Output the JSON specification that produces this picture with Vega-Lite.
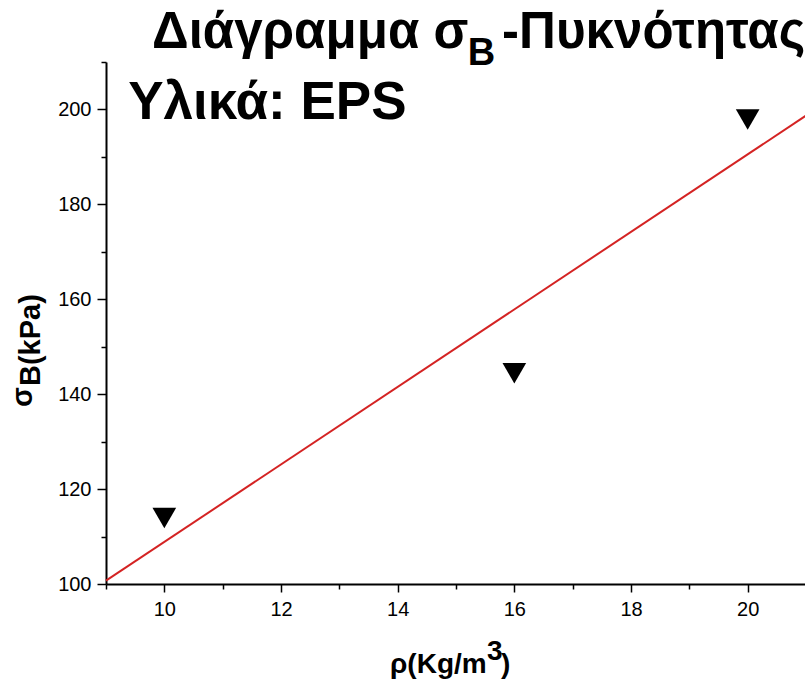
{
  "$schema": "https://vega.github.io/schema/vega-lite/v6.json",
  "autosize": {"type": "none"},
  "padding": {"top": 62, "left": 106, "right": 0, "bottom": 98},
  "width": 700,
  "height": 522,
  "background": "white",
  "config": {"view": {"stroke": null}, "font": "Liberation Sans"},
  "datasets": {
    "points": [
      {"rho": 10, "sigma": 113.9},
      {"rho": 16, "sigma": 144.4},
      {"rho": 20, "sigma": 197.9}
    ],
    "fit": [
      {"rho": 9, "sigma": 100.7},
      {"rho": 21, "sigma": 198.7}
    ]
  },
  "resolve": {"axis": {"x": "independent", "y": "independent"}},
  "layer": [
    {
      "data": {"name": "fit"},
      "mark": {"type": "line", "color": "#d42323", "strokeWidth": 2},
      "encoding": {
        "x": {"field": "rho", "type": "quantitative",
          "scale": {"domain": [9, 21], "nice": false, "zero": false},
          "axis": {"orient": "bottom", "values": [10, 12, 14, 16, 18, 20], "title": null, "grid": false,
            "domainColor": "black", "domainWidth": 2, "tickColor": "black", "tickWidth": 1.5, "tickSize": 8,
            "labelFontSize": 20, "labelColor": "black", "labelPadding": 7, "labelFont": "Liberation Sans"}},
        "y": {"field": "sigma", "type": "quantitative",
          "scale": {"domain": [100, 210], "nice": false, "zero": false},
          "axis": {"orient": "left", "values": [100, 120, 140, 160, 180, 200], "title": null, "grid": false,
            "domainColor": "black", "domainWidth": 2, "tickColor": "black", "tickWidth": 1.5, "tickSize": 9,
            "labelFontSize": 20, "labelColor": "black", "labelPadding": 6, "labelFont": "Liberation Sans"}}
      }
    },
    {
      "data": {"name": "points"},
      "mark": {"type": "point", "shape": "triangle-down", "filled": true, "color": "black", "size": 560, "opacity": 1},
      "encoding": {
        "x": {"field": "rho", "type": "quantitative",
          "axis": {"orient": "bottom", "values": [9, 11, 13, 15, 17, 19, 21], "title": null, "grid": false, "labels": false,
            "domain": false, "tickColor": "black", "tickWidth": 1.5, "tickSize": 5}},
        "y": {"field": "sigma", "type": "quantitative",
          "axis": {"orient": "left", "values": [110, 130, 150, 170, 190, 210], "title": null, "grid": false, "labels": false,
            "domain": false, "tickColor": "black", "tickWidth": 1.5, "tickSize": 5}}
      }
    },
    {
      "data": {"values": [{"label": "Διάγραμμα σ"}]},
      "mark": {"type": "text", "align": "left", "baseline": "alphabetic", "fontSize": 51, "fontWeight": "bold", "color": "black"},
      "encoding": {
        "x": {"datum": 9.789, "type": "quantitative", "axis": null},
        "y": {"datum": 212.95, "type": "quantitative", "axis": null},
        "text": {"field": "label"}
      }
    },
    {
      "data": {"values": [{"label": "B"}]},
      "mark": {"type": "text", "align": "left", "baseline": "alphabetic", "fontSize": 38, "fontWeight": "bold", "color": "black"},
      "encoding": {
        "x": {"datum": 15.2, "type": "quantitative", "axis": null},
        "y": {"datum": 209.37, "type": "quantitative", "axis": null},
        "text": {"field": "label"}
      }
    },
    {
      "data": {"values": [{"label": "-Πυκνότητας"}]},
      "mark": {"type": "text", "align": "left", "baseline": "alphabetic", "fontSize": 51, "fontWeight": "bold", "color": "black"},
      "encoding": {
        "x": {"datum": 15.79, "type": "quantitative", "axis": null},
        "y": {"datum": 212.95, "type": "quantitative", "axis": null},
        "text": {"field": "label"}
      }
    },
    {
      "data": {"values": [{"label": "Υλικά: EPS"}]},
      "mark": {"type": "text", "align": "left", "baseline": "alphabetic", "fontSize": 53, "fontWeight": "bold", "color": "black"},
      "encoding": {
        "x": {"datum": 9.38, "type": "quantitative", "axis": null},
        "y": {"datum": 197.9, "type": "quantitative", "axis": null},
        "text": {"field": "label"}
      }
    },
    {
      "data": {"values": [{"label": "ρ(Kg/m"}]},
      "mark": {"type": "text", "align": "left", "baseline": "alphabetic", "fontSize": 28, "fontWeight": "bold", "color": "black"},
      "encoding": {
        "x": {"datum": 13.869, "type": "quantitative", "axis": null},
        "y": {"datum": 81.25, "type": "quantitative", "axis": null},
        "text": {"field": "label"}
      }
    },
    {
      "data": {"values": [{"label": "3"}]},
      "mark": {"type": "text", "align": "left", "baseline": "alphabetic", "fontSize": 28, "fontWeight": "bold", "color": "black"},
      "encoding": {
        "x": {"datum": 15.532, "type": "quantitative", "axis": null},
        "y": {"datum": 83.98, "type": "quantitative", "axis": null},
        "text": {"field": "label"}
      }
    },
    {
      "data": {"values": [{"label": ")"}]},
      "mark": {"type": "text", "align": "left", "baseline": "alphabetic", "fontSize": 28, "fontWeight": "bold", "color": "black"},
      "encoding": {
        "x": {"datum": 15.772, "type": "quantitative", "axis": null},
        "y": {"datum": 81.25, "type": "quantitative", "axis": null},
        "text": {"field": "label"}
      }
    },
    {
      "data": {"values": [{"label": "σ"}]},
      "mark": {"type": "text", "align": "left", "baseline": "alphabetic", "angle": 270, "fontSize": 29, "fontWeight": "bold", "color": "black"},
      "encoding": {
        "x": {"datum": 7.731, "type": "quantitative", "axis": null},
        "y": {"datum": 137.3, "type": "quantitative", "axis": null},
        "text": {"field": "label"}
      }
    },
    {
      "data": {"values": [{"label": "B(kPa)"}]},
      "mark": {"type": "text", "align": "left", "baseline": "alphabetic", "angle": 270, "fontSize": 29, "fontWeight": "bold", "color": "black"},
      "encoding": {
        "x": {"datum": 7.869, "type": "quantitative", "axis": null},
        "y": {"datum": 141.72, "type": "quantitative", "axis": null},
        "text": {"field": "label"}
      }
    }
  ]
}
